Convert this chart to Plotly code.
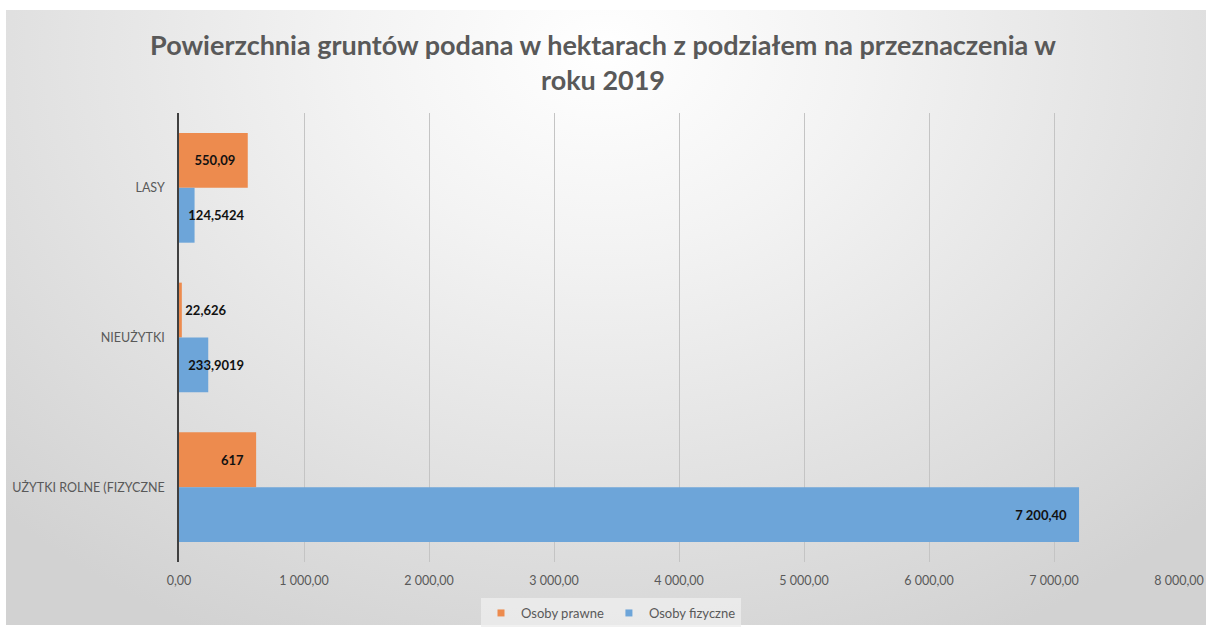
import plotly.graph_objects as go

categories = ["LASY", "NIEUŻYTKI", "UŻYTKI ROLNE (FIZYCZNE"]
prawne = [550.09, 22.626, 617]
fizyczne = [124.5424, 233.9019, 7200.40]
prawne_labels = ["550,09", "22,626", "617"]
fizyczne_labels = ["124,5424", "233,9019", "7 200,40"]
x_ticks = [0, 1000, 2000, 3000, 4000, 5000, 6000, 7000, 8000]

series = [
    ("Osoby prawne", prawne, prawne_labels, "#ED8B4E"),
    ("Osoby fizyczne", fizyczne, fizyczne_labels, "#6DA5D9"),
]

FONT = "Lato"
NB = "\u00a0"
fig = go.Figure()
for name, vals, labels, color in series:
    for big in (True, False):
        idx = [i for i, v in enumerate(vals) if (v >= 400) == big]
        if not idx:
            continue
        txt = [(labels[i] + NB * 3) if big else (NB * 2 + labels[i]) for i in idx]
        fig.add_trace(go.Bar(
            name=name,
            orientation="h",
            y=[categories[i] for i in idx],
            x=[vals[i] for i in idx],
            text=txt,
            textposition="inside",
            insidetextanchor="end" if big else "start",
            constraintext="none",
            textangle=0,
            insidetextfont=dict(family=FONT, size=13, color="#111111", weight="bold"),
            marker=dict(color=color, line=dict(width=0)),
            offsetgroup=name,
            legendgroup=name,
            showlegend=False,
            hoverinfo="skip",
        ))

# legend entries with small square markers
for name, vals, labels, color in series:
    fig.add_trace(go.Scatter(
        x=[None], y=[None], mode="markers", name=name,
        marker=dict(symbol="square", size=7, color=color),
        legendgroup=name, showlegend=True, hoverinfo="skip",
    ))

fig.update_layout(
    width=1206,
    height=627,
    barmode="group",
    bargap=0.267,
    bargroupgap=0,
    separators=", ",
    paper_bgcolor="rgba(0,0,0,0)",
    plot_bgcolor="rgba(0,0,0,0)",
    margin=dict(l=179, r=27, t=113, b=65, autoexpand=False),
    font=dict(family=FONT, color="#595959"),
    title=dict(
        text="Powierzchnia gruntów podana w hektarach z podziałem na przeznaczenia w<br>roku 2019",
        x=0.5, xref="container", xanchor="center",
        y=1 - 55 / 627, yref="container", yanchor="middle",
        font=dict(family=FONT, size=27, color="#595959", weight="bold"),
    ),
    xaxis=dict(
        range=[0, 8000],
        tickvals=x_ticks,
        tickformat=",.2f",
        showgrid=True,
        gridcolor="#c4c4c4",
        gridwidth=1,
        zeroline=False,
        showline=False,
        ticks="outside",
        ticklen=7,
        tickcolor="rgba(0,0,0,0)",
        tickfont=dict(family=FONT, size=12.5, color="#595959"),
        automargin=False,
    ),
    yaxis=dict(
        range=[2.5, -0.5],
        categoryorder="array",
        categoryarray=categories,
        showline=True,
        linecolor="#404040",
        linewidth=1.5,
        showgrid=False,
        ticks="outside",
        ticklen=10,
        tickcolor="rgba(0,0,0,0)",
        tickfont=dict(family=FONT, size=12.5, color="#595959"),
        automargin=False,
    ),
    legend=dict(
        orientation="h",
        x=0.432, xanchor="center",
        yref="container",
        y=1 - 613 / 627, yanchor="middle",
        bgcolor="rgba(238,238,238,0.8)",
        font=dict(family=FONT, size=13, color="#595959"),
        traceorder="normal",
        itemwidth=30,
    ),
)

post = """
document.documentElement.style.overflow='hidden';
document.body.style.margin='0';
document.body.style.overflow='hidden';
var gd=document.getElementsByClassName('plotly-graph-div')[0];
gd.style.background='linear-gradient(#ffffff,#ffffff) top left/100% 10px no-repeat, linear-gradient(#ffffff,#ffffff) top left/6px 100% no-repeat, linear-gradient(#ffffff,#ffffff) bottom left/100% 2px no-repeat, radial-gradient(ellipse 70% 105% at 50% 8%, #ffffff 0%, #f3f3f3 30%, #d2d2d2 100%)';
"""

fig.write_html("out.html", post_script=post, config={"displayModeBar": False})
